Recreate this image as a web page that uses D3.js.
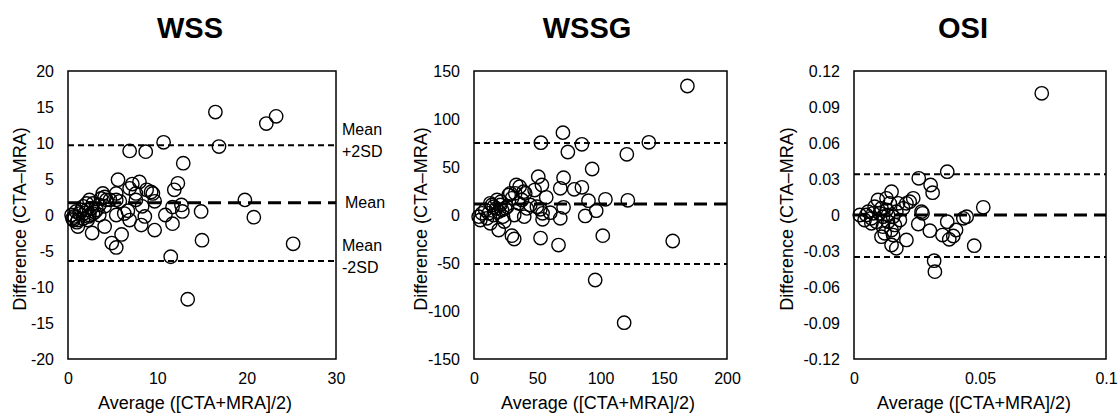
<!DOCTYPE html>
<html>
<head>
<meta charset="utf-8">
<script src="https://cdn.jsdelivr.net/npm/d3@7"></script>
<style>
  body { margin: 0; background: #fff; }
  text { font-family: Arial, "Liberation Sans", sans-serif; fill: #000; }
</style>
</head>
<body>
<div id="chart"></div>
<script>
// Bland-Altman: WSS, WSSG, OSI (CTA vs MRA)
var titles = ["WSS", "WSSG", "OSI"];

var wssAvg = [16.5, 22.2, 23.3, 10.7, 6.9, 8.7, 16.9, 12.9, 5.6, 12.3, 11.9, 8.0, 7.2, 6.9, 7.6, 8.8, 9.3, 9.5, 9.7, 8.3,
  12.7, 12.8, 11.7, 10.9, 8.6, 8.2, 9.7, 11.7, 14.9, 19.8, 20.8, 15.0, 25.2, 11.5, 13.4, 4.9, 5.4, 6.0, 2.7, 4.1,
  5.4, 6.3, 6.7, 6.9, 5.4, 5.4, 5.8, 3.9, 4.1, 4.3, 3.7, 3.5, 3.2, 2.8, 2.4, 2.1, 1.7, 2.1, 2.4, 1.3,
  1.1, 0.7, 0.4, 0.6, 1.1, 1.5, 2.6, 2.8, 4.1, 4.7, 3.5, 0.9, 1.7, 2.2, 7.6, 0.5, 1.0, 1.9, 2.3, 3.0];
var wssDiff = [14.3, 12.7, 13.7, 10.1, 8.9, 8.8, 9.5, 7.2, 4.9, 4.4, 3.5, 4.6, 4.3, 3.7, 3.0, 3.5, 3.2, 3.0, 1.9, 1.2,
  1.4, 0.5, 1.1, 0.0, -0.2, -1.4, -2.1, -1.2, 0.5, 2.1, -0.3, -3.5, -4.0, -5.8, -11.7, -3.9, -4.5, -2.7, -2.5, -1.6,
  0.0, 0.2, 0.6, -0.7, 3.0, 2.1, 1.9, 3.0, 2.5, 2.1, 2.3, 0.0, 0.7, 0.2, 2.1, 1.6, 1.2, 0.7, 0.0, 0.2,
  -0.7, -0.2, 0.0, -0.7, -1.6, 0.7, 0.9, 1.6, 1.2, 2.1, 1.4, 0.5, -0.5, -0.7, 2.1, -0.5, -1.0, 0.3, -0.2, 0.4];

var wssgAvg = [168.7, 70.3, 52.9, 85.3, 138.2, 74.2, 120.8, 93.4, 50.8, 70.8, 53.7, 33.4, 36.1, 68.2, 79.2, 85.3, 57.1, 47.9, 40.5, 39.2,
  90.5, 103.9, 121.6, 70.8, 96.6, 87.9, 68.2, 60.3, 54.2, 54.2, 49.7, 41.8, 39.7, 31.8, 35.3, 30.0, 27.4, 44.5, 52.4, 101.8,
  157.1, 52.6, 66.8, 30.0, 31.8, 19.5, 12.9, 23.9, 22.9, 95.8, 118.7, 3.7, 5.0, 6.3, 8.9, 12.9, 15.5, 18.2, 20.8, 22.1,
  24.7, 11.6, 15.5, 19.5, 26.1, 10.3, 14.2, 17.6, 21.3, 28.7, 32.6, 37.9];
var wssgDiff = [134.4, 85.8, 75.3, 73.6, 75.7, 65.6, 63.2, 47.9, 39.9, 38.9, 31.3, 31.3, 29.5, 27.8, 26.7, 28.8, 18.4, 26.0, 22.6, 24.3,
  14.9, 16.3, 15.3, 8.0, 4.5, -1.0, -3.5, 2.4, 1.7, -4.5, 8.7, 6.9, -1.7, 0.0, 12.2, 17.4, 20.8, 10.4, 5.9, -21.5,
  -27.1, -24.0, -31.3, -21.5, -25.0, -15.6, -8.7, -6.9, -1.7, -67.7, -112.2, -1.7, -5.2, 1.7, 5.2, 12.2, 8.7, 15.6, 10.4, 5.2,
  6.9, 1.7, 0.0, 3.5, 8.7, -3.5, 10.4, 6.9, 13.9, 22.6, 22.6, 15.6];

var osiAvg = [0.0745, 0.0370, 0.0257, 0.0304, 0.0312, 0.0513, 0.0447, 0.0434, 0.0370, 0.0405, 0.0394, 0.0378, 0.0351, 0.0301, 0.0255, 0.0477, 0.0318, 0.0321, 0.0272, 0.0268,
  0.0235, 0.0221, 0.0208, 0.0149, 0.0129, 0.0208, 0.0168, 0.0149, 0.0109, 0.0155, 0.0023, 0.0042, 0.0056, 0.0069, 0.0082, 0.0089, 0.0102, 0.0115, 0.0129, 0.0135,
  0.0142, 0.0155, 0.0168, 0.0175, 0.0182, 0.0115, 0.0149, 0.0069, 0.0095, 0.0195, 0.0162, 0.0122, 0.0049, 0.0076, 0.0135, 0.0109];
var osiDiff = [0.1014, 0.0361, 0.0306, 0.0250, 0.0186, 0.0064, -0.0014, -0.0028, -0.0056, -0.0125, -0.0175, -0.0203, -0.0167, -0.0131, -0.0075, -0.0256, -0.0381, -0.0472, 0.0014, 0.0028,
  0.0139, 0.0111, 0.0097, 0.0194, 0.0139, -0.0208, -0.0278, -0.0250, -0.0181, -0.0167, 0.0000, -0.0042, 0.0028, -0.0028, 0.0069, -0.0056, 0.0014, -0.0014, 0.0042, -0.0056,
  0.0097, -0.0014, 0.0028, 0.0097, -0.0042, -0.0097, -0.0125, -0.0069, 0.0125, 0.0056, -0.0083, -0.0153, 0.0000, 0.0014, 0.0000, 0.0056];

// mean, +2SD, -2SD
var wssLines = [1.7, 9.7, -6.4];
var wssgLines = [11.5, 75, -51];
var osiLines = [0, 0.034, -0.035];

var wssXTicks = [0, 10, 20, 30];
var wssYTicks = [-20, -15, -10, -5, 0, 5, 10, 15, 20];
var wssgXTicks = [0, 50, 100, 150, 200];
var wssgYTicks = [-150, -100, -50, 0, 50, 100, 150];
var osiXTicks = [0, 0.05, 0.1];
var osiYTicks = [-0.12, -0.09, -0.06, -0.03, 0, 0.03, 0.06, 0.09, 0.12];
var osiYLabels = ["-0.12", "-0.09", "-0.06", "-0.03", "0", "0.03", "0.06", "0.09", "0.12"];

var width = 1119, height = 414;
var svg = d3.select("#chart").append("svg")
    .attr("width", width)
    .attr("height", height);

var top0 = 71, bottom0 = 359;

var panels = [
  { title: titles[0], left: 68, right: 336, xd: [0, 30], yd: [-20, 20], xs: wssAvg, ys: wssDiff,
    lines: wssLines, xt: wssXTicks, yt: wssYTicks, yfmt: function (d) { return d; },
    ytitleX: 20, xtitleX: 195, titleX: 190 },
  { title: titles[1], left: 474, right: 727, xd: [0, 200], yd: [-150, 150], xs: wssgAvg, ys: wssgDiff,
    lines: wssgLines, xt: wssgXTicks, yt: wssgYTicks, yfmt: function (d) { return d; },
    ytitleX: 421, xtitleX: 598, titleX: 587 },
  { title: titles[2], left: 854, right: 1106, xd: [0, 0.1], yd: [-0.12, 0.12], xs: osiAvg, ys: osiDiff,
    lines: osiLines, xt: osiXTicks, yt: osiYTicks, yfmt: function (d, i) { return osiYLabels[i]; },
    ytitleX: 787, xtitleX: 974, titleX: 963 }
];

panels.forEach(function (p) {
  var x = d3.scaleLinear().domain(p.xd).range([p.left, p.right]);
  var y = d3.scaleLinear().domain(p.yd).range([bottom0, top0]);
  var g = svg.append("g");

  // titulo
  g.append("text")
      .attr("x", p.titleX)
      .attr("y", 38)
      .attr("text-anchor", "middle")
      .style("font-size", "29px")
      .style("font-weight", "bold")
      .text(p.title);

  // ejes sin marcas
  var yAxis = d3.axisLeft(y).tickValues(p.yt).tickSize(0).tickPadding(14).tickFormat(p.yfmt);
  var ya = g.append("g").attr("transform", "translate(" + p.left + ",0)").call(yAxis);
  ya.select(".domain").remove();
  ya.selectAll("text").style("font-size", "16px").style("font-family", "Arial, 'Liberation Sans', sans-serif");

  var xAxis = d3.axisBottom(x).tickValues(p.xt).tickSize(0).tickPadding(14).tickFormat(function (d) { return d; });
  var xa = g.append("g").attr("transform", "translate(0," + bottom0 + ")").call(xAxis);
  xa.select(".domain").remove();
  xa.selectAll("text").style("font-size", "16px").style("font-family", "Arial, 'Liberation Sans', sans-serif");

  // lineas de media y limites
  var lineData = [
    { v: p.lines[0], w: 3, dash: "13,7" },
    { v: p.lines[1], w: 2, dash: "6,4" },
    { v: p.lines[2], w: 2, dash: "6,4" }
  ];
  g.selectAll(".ref")
    .data(lineData)
    .enter()
    .append("line")
      .attr("x1", p.left)
      .attr("x2", p.right)
      .attr("y1", function (d) { return y(d.v); })
      .attr("y2", function (d) { return y(d.v); })
      .attr("stroke", "#000")
      .attr("stroke-width", function (d) { return d.w; })
      .attr("stroke-dasharray", function (d) { return d.dash; });

  // puntos
  g.selectAll("circle")
    .data(p.xs)
    .enter()
    .append("circle")
      .attr("cx", function (d) { return x(d); })
      .attr("cy", function (d, i) { return y(p.ys[i]); })
      .attr("r", 6.7)
      .attr("fill", "none")
      .attr("stroke", "#000")
      .attr("stroke-width", 1.4);

  // marco
  g.append("rect")
      .attr("x", p.left)
      .attr("y", top0)
      .attr("width", p.right - p.left)
      .attr("height", bottom0 - top0)
      .attr("fill", "none")
      .attr("stroke", "#000")
      .attr("stroke-width", 1.5);

  // etiquetas de ejes
  g.append("text")
      .attr("transform", "translate(" + p.ytitleX + "," + ((top0 + bottom0) / 2 + 4) + ") rotate(-90)")
      .attr("dy", "0.35em")
      .attr("text-anchor", "middle")
      .style("font-size", "18px")
      .text("Difference (CTA\u2013MRA)");

  g.append("text")
      .attr("x", p.xtitleX)
      .attr("y", 409)
      .attr("text-anchor", "middle")
      .style("font-size", "18px")
      .text("Average ([CTA+MRA]/2)");
});

// etiquetas Mean / ±2SD del primer panel
var sdLabels = [
  { lines: ["Mean", "+2SD"], v: wssLines[1], off: -16 },
  { lines: ["Mean"], v: wssLines[0], off: 0 },
  { lines: ["Mean", "-2SD"], v: wssLines[2], off: -16 }
];
var yWss = d3.scaleLinear().domain([-20, 20]).range([bottom0, top0]);
sdLabels.forEach(function (l, k) {
  l.lines.forEach(function (t, j) {
    svg.append("text")
        .attr("x", k === 1 ? 345 : 342)
        .attr("y", yWss(l.v) + l.off + j * 22)
        .attr("dy", "0.35em")
        .style("font-size", "16px")
        .text(t);
  });
});
</script>
</body>
</html>
